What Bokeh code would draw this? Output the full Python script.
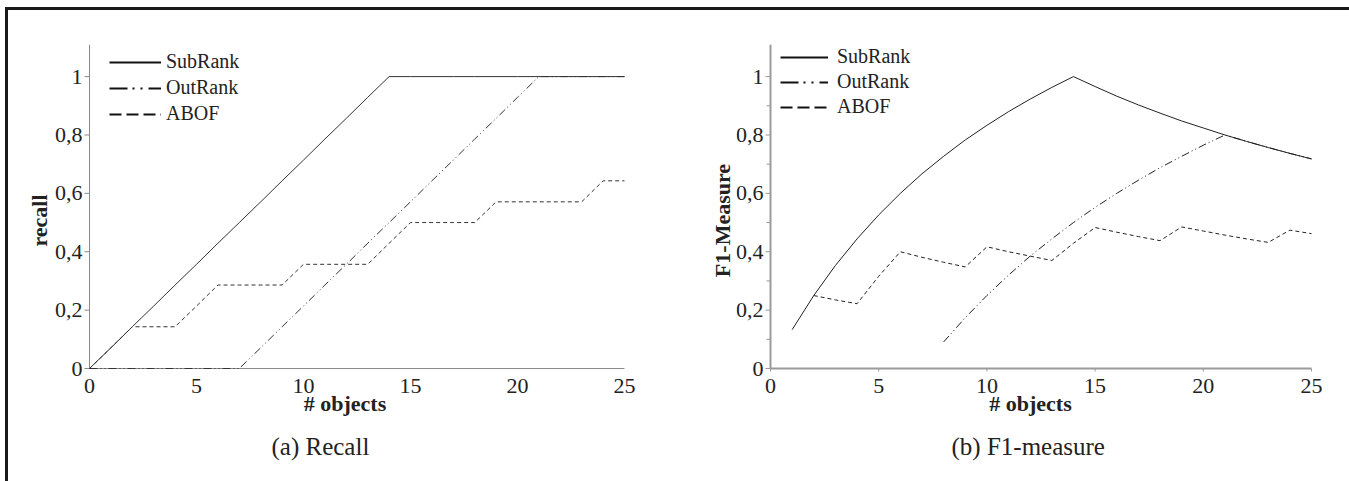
import math
from bokeh.plotting import figure
from bokeh.models import (Legend, LegendItem, FixedTicker, Title, Div, LabelSet,
                          ColumnDataSource)
from bokeh.core.properties import value
from bokeh.layouts import row, column
from bokeh.embed import file_html
from bokeh.resources import INLINE

FONT = "Liberation Serif"
QFONT = "'Liberation Serif'"
NAN = float("nan")

# ---------------- data ----------------
x_ticks = [0, 5, 10, 15, 20, 25]
x_tick_labels = ["0", "5", "10", "15", "20", "25"]
y_ticks = [0, 0.2, 0.4, 0.6, 0.8, 1]
y_tick_labels = ["0", "0,2", "0,4", "0,6", "0,8", "1"]
y_minor_ticks = [0.1, 0.3, 0.5, 0.7, 0.9]

series_names = ["SubRank", "OutRank", "ABOF"]

# (a) Recall
recall_x = [0, 1, 2, 3, 4, 5, 6, 7, 8, 9, 10, 11, 12, 13, 14, 15, 16, 17, 18, 19, 20, 21, 22, 23, 24, 25]
recall_subrank = [0, 0.071, 0.143, 0.214, 0.286, 0.357, 0.429, 0.5, 0.571, 0.643, 0.714, 0.786, 0.857,
                  0.929, 1, 1, 1, 1, 1, 1, 1, 1, 1, 1, 1, 1]
recall_outrank = [0, 0, 0, 0, 0, 0, 0, 0, 0.071, 0.143, 0.214, 0.286, 0.357, 0.429, 0.5, 0.571, 0.643,
                  0.714, 0.786, 0.857, 0.929, 1, 1, 1, 1, 1]
recall_abof = [0, 0.071, 0.143, 0.143, 0.143, 0.214, 0.286, 0.286, 0.286, 0.286, 0.357, 0.357, 0.357,
               0.357, 0.429, 0.5, 0.5, 0.5, 0.5, 0.571, 0.571, 0.571, 0.571, 0.571, 0.643, 0.643]

# (b) F1-measure
f1_subrank_x = [1, 2, 3, 4, 5, 6, 7, 8, 9, 10, 11, 12, 13, 14, 15, 16, 17, 18, 19, 20, 21, 22, 23, 24, 25]
f1_subrank = [0.133, 0.25, 0.353, 0.444, 0.526, 0.6, 0.667, 0.727, 0.783, 0.833, 0.88, 0.923, 0.963, 1,
              0.966, 0.933, 0.903, 0.875, 0.848, 0.824, 0.8, 0.778, 0.757, 0.737, 0.718]
f1_outrank_x = [8, 9, 10, 11, 12, 13, 14, 15, 16, 17, 18, 19, 20, 21, 22, 23, 24, 25]
f1_outrank = [0.091, 0.174, 0.25, 0.32, 0.385, 0.444, 0.5, 0.552, 0.6, 0.645, 0.688, 0.727, 0.765, 0.8,
              0.778, 0.757, 0.737, 0.718]
f1_abof_x = [2, 3, 4, 5, 6, 7, 8, 9, 10, 11, 12, 13, 14, 15, 16, 17, 18, 19, 20, 21, 22, 23, 24, 25]
f1_abof = [0.25, 0.235, 0.222, 0.316, 0.4, 0.381, 0.364, 0.348, 0.417, 0.4, 0.385, 0.37, 0.429, 0.483,
           0.467, 0.452, 0.438, 0.485, 0.471, 0.457, 0.444, 0.432, 0.474, 0.462]

# ---------------- styles / geometry ----------------
DASHES = {"SubRank": "solid", "OutRank": "8 3 1 3 1 3", "ABOF": "4 3"}
LEG_DASHES = {"SubRank": "solid", "OutRank": "18 5 2 6 2 6", "ABOF": "12 5"}
TXT = "#222222"
FIG_H = 468
MB_TOP = 34
FRAME_H = 352
AX_X_END = 25
AX_Y_TOP = 1.11
Y_START = -0.0959


def make_fig(width, mb_left, mb_right, x_start, x_end, ylabel, caption, cap_offset, axis_w,
             axis_col, minor, xticks_on, leg_loc, leg_spacing, leg_glyph_w, leg_standoff,
             ylab_standoff):
    p = figure(width=width, height=FIG_H, x_range=(x_start, x_end), y_range=(Y_START, AX_Y_TOP),
               output_backend="svg", toolbar_location=None,
               min_border_left=mb_left, min_border_right=mb_right,
               min_border_top=MB_TOP, min_border_bottom=FIG_H - MB_TOP - FRAME_H,
               outline_line_color=None, background_fill_color="white")
    p.xgrid.visible = False
    p.ygrid.visible = False

    # Bokeh axes only carry the axis titles
    for ax in (p.xaxis[0], p.yaxis[0]):
        ax.axis_line_color = None
        ax.major_tick_line_color = None
        ax.minor_tick_line_color = None
        ax.major_tick_in = 0
        ax.major_tick_out = 0
        ax.minor_tick_in = 0
        ax.minor_tick_out = 0
        ax.major_label_text_color = None
        ax.axis_label_text_font = FONT
        ax.axis_label_text_font_size = "22px"
        ax.axis_label_text_font_style = "bold"
        ax.axis_label_text_color = TXT
    p.xaxis[0].ticker = FixedTicker(ticks=x_ticks)
    p.yaxis[0].ticker = FixedTicker(ticks=y_ticks)
    p.xaxis[0].axis_label = "# objects"
    p.xaxis[0].axis_label_standoff = -6
    p.yaxis[0].axis_label = ylabel
    p.yaxis[0].axis_label_standoff = ylab_standoff

    # axis lines and ticks at the data origin
    p.segment(x0=[0, 0], y0=[0, 0], x1=[AX_X_END, 0], y1=[0, AX_Y_TOP],
              line_color=axis_col, line_width=axis_w)
    p.ray(x=[0] * len(y_ticks), y=y_ticks, length=5, length_units="screen", angle=math.pi,
          line_color=axis_col, line_width=1)
    if minor:
        p.ray(x=[0] * len(y_minor_ticks), y=y_minor_ticks, length=4, length_units="screen",
              angle=math.pi, line_color=axis_col, line_width=1)
    if xticks_on:
        p.ray(x=x_ticks, y=[0] * len(x_ticks), length=3, length_units="screen",
              angle=-math.pi / 2, line_color=axis_col, line_width=1)

    # tick labels (serif)
    ysrc = ColumnDataSource(dict(x=[0] * len(y_ticks), y=y_ticks, text=y_tick_labels))
    p.add_layout(LabelSet(x="x", y="y", text="text", source=ysrc, x_offset=-7,
                          text_align="right", text_baseline="middle",
                          text_font=value(QFONT), text_font_size=value("22px"),
                          text_color=TXT))
    xsrc = ColumnDataSource(dict(x=x_ticks, y=[0] * len(x_ticks), text=x_tick_labels))
    p.add_layout(LabelSet(x="x", y="y", text="text", source=xsrc, y_offset=-17,
                          text_align="center", text_baseline="middle",
                          text_font=value(QFONT), text_font_size=value("22px"),
                          text_color=TXT))

    items = []
    for name in series_names:
        r = p.line([NAN], [NAN], line_color="#111111", line_width=2, line_dash=LEG_DASHES[name])
        items.append(LegendItem(label=name, renderers=[r]))
    leg = Legend(items=items, location=leg_loc, border_line_color=None, background_fill_alpha=0,
                 padding=0, margin=0, spacing=leg_spacing, glyph_width=leg_glyph_w, glyph_height=20,
                 label_height=20, label_standoff=leg_standoff, label_text_font=QFONT,
                 label_text_font_size="20px", label_text_color=TXT)
    p.add_layout(leg)

    p.add_layout(Title(text=caption, align="left", offset=cap_offset, text_font=FONT,
                       text_font_size="25px", text_font_style="normal", text_color=TXT,
                       standoff=25), "below")
    return p


p1 = make_fig(650, 44, 21, -1.729, 25.607, "recall", "(a) Recall", 219, 1, "#8a8a8a",
              False, False, (57, 271), 3, 52, 5, 1)
p1.line(recall_x, recall_subrank, line_color="#333333", line_width=1, line_dash=DASHES["SubRank"])
p1.line(recall_x, recall_outrank, line_color="#333333", line_width=1, line_dash=DASHES["OutRank"])
p1.line(recall_x, recall_abof, line_color="#333333", line_width=1, line_dash=DASHES["ABOF"])

p2 = make_fig(678, 78, 12, -1.571, 25.6, "F1-Measure", "(b) F1-measure", 215, 2, "#9a9a9a",
              True, True, (44, 278), 2, 48, 9, 2)
p2.line(f1_subrank_x, f1_subrank, line_color="#222222", line_width=1, line_dash=DASHES["SubRank"])
p2.line(f1_outrank_x, f1_outrank, line_color="#222222", line_width=1, line_dash=DASHES["OutRank"])
p2.line(f1_abof_x, f1_abof, line_color="#222222", line_width=1, line_dash=DASHES["ABOF"])

top_bar = Div(text="", width=1344, height=3, margin=0, styles={"background-color": "#1a1a1a"})
left_bar = Div(text="", width=3, height=471, margin=0, styles={"background-color": "#1a1a1a"})

layout = column(top_bar, row(left_bar, p1, p2), margin=(7, 0, 0, 5))

open("out.html", "w").write(file_html(layout, INLINE))
